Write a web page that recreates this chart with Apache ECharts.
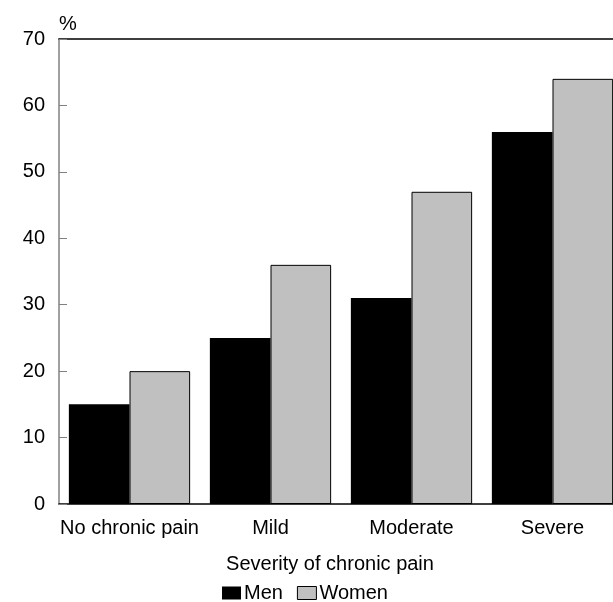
<!DOCTYPE html>
<html>
<head>
<meta charset="utf-8">
<script src="https://cdn.jsdelivr.net/npm/echarts@6/dist/echarts.min.js"></script>
<style>
  html, body { margin: 0; padding: 0; background: #fff; }
  #chart { width: 613px; height: 602px; }
</style>
</head>
<body>
<div id="chart"></div>
<script>
const categories = ['No chronic pain', 'Mild', 'Moderate', 'Severe']
const men = [15, 25, 31, 56]
const women = [20, 36, 47, 64]

const font = 'Liberation Sans, Arial, sans-serif'
const textStyle = {
  fontFamily: font,
  fontSize: 20,
  color: '#000'
}

const chart = echarts.init(document.getElementById('chart'))
chart.setOption({
  animation: false,
  title: {
    text: 'Severity of chronic pain',
    left: 325,
    top: 549,
    textAlign: 'center',
    textStyle: { ...textStyle, fontWeight: 'normal' }
  },
  legend: {
    data: [
      { name: 'Men', itemStyle: { color: '#000', borderWidth: 0 } },
      { name: 'Women', itemStyle: { color: '#c0c0c0', borderColor: '#000', borderWidth: 1 } }
    ],
    left: 217,
    top: 578,
    icon: 'rect',
    itemWidth: 19,
    itemHeight: 13,
    itemGap: 14,
    textStyle: { ...textStyle, padding: [0, 0, 0, -2] }
  },
  // plot runs past the right edge of the canvas, like the reference
  grid: {
    left: 59,
    width: 564,
    top: 39,
    height: 465,
    outerBoundsMode: 'none'
  },
  xAxis: [
    {
      type: 'category',
      data: categories,
      axisLine: { lineStyle: { color: '#000', width: 1.5 } },
      axisTick: { show: false },
      axisLabel: { ...textStyle, interval: 0, margin: 14 }
    },
    {
      type: 'category',
      position: 'top',
      data: categories,
      axisLine: { lineStyle: { color: '#000', width: 1.5 } },
      axisTick: { show: false },
      axisLabel: { show: false }
    }
  ],
  yAxis: {
    type: 'value',
    min: 0,
    max: 70,
    interval: 10,
    name: '%',
    nameLocation: 'end',
    nameGap: 5,
    nameTextStyle: { ...textStyle, align: 'left', padding: [0, 0, 0, 0] },
    axisLine: { show: true, lineStyle: { color: '#808080', width: 1.5 } },
    axisTick: { show: true, inside: true, length: 8, lineStyle: { color: '#808080' } },
    axisLabel: { ...textStyle, margin: 14 },
    splitLine: { show: false }
  },
  series: [
    {
      name: 'Men',
      type: 'bar',
      data: men,
      barGap: '0%',
      barCategoryGap: '14%',
      itemStyle: { color: '#000' }
    },
    {
      name: 'Women',
      type: 'bar',
      data: women,
      itemStyle: { color: '#c0c0c0', borderColor: '#000', borderWidth: 1 }
    }
  ]
})
</script>
</body>
</html>
